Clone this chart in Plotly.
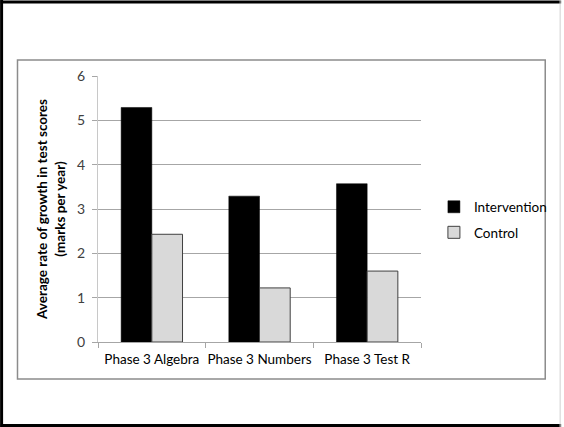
import plotly.graph_objects as go

categories = ["Phase 3 Algebra", "Phase 3 Numbers", "Phase 3 Test R"]
intervention = [5.29, 3.29, 3.57]
control = [2.43, 1.22, 1.60]
y_ticks = [0, 1, 2, 3, 4, 5, 6]

W, H = 564, 427
L, R, T, B = 98, 423, 76, 342

def px(x):
    return (x - L) / (R - L)

def py(y):
    return (B - y) / (B - T)

FONT = "Lato, Open Sans, sans-serif"

fig = go.Figure()
fig.add_trace(go.Bar(name="Intervention", x=categories, y=intervention, legendgroup="a",
                     marker=dict(color="#000000", line=dict(color="#000000", width=0.5))))
fig.add_trace(go.Bar(name="Control", x=categories, y=control, legendgroup="b",
                     marker=dict(color="#d9d9d9", line=dict(color="#404040", width=1))))

shapes = [
    # outer frame
    dict(type="line", xref="paper", yref="paper", x0=px(1), y0=py(0), x1=px(1), y1=py(427),
         line=dict(color="#000000", width=3)),
    dict(type="line", xref="paper", yref="paper", x0=px(0), y0=py(2), x1=px(564), y1=py(2),
         line=dict(color="#000000", width=3)),
    dict(type="line", xref="paper", yref="paper", x0=px(0), y0=py(425.5), x1=px(564), y1=py(425.5),
         line=dict(color="#000000", width=3)),
    dict(type="line", xref="paper", yref="paper", x0=px(563), y0=py(0), x1=px(563), y1=py(427),
         line=dict(color="#d0d0d0", width=1)),
    # inner chart frame
    dict(type="rect", xref="paper", yref="paper", x0=px(17), y0=py(60), x1=px(548), y1=py(379),
         line=dict(color="#8c8c8c", width=1.5)),
]

fig.update_layout(
    width=W, height=H, autosize=False,
    margin=dict(l=L, r=W - R, t=T, b=H - B, pad=0),
    paper_bgcolor="white", plot_bgcolor="white",
    barmode="group", bargap=0.43, bargroupgap=0,
    font=dict(family=FONT, size=13, color="#404040"),
    shapes=shapes,
    showlegend=True,
    legend=dict(x=px(436), y=py(220), xanchor="left", yanchor="middle",
                font=dict(family=FONT, size=13.5, color="#000000"),
                itemwidth=30, tracegroupgap=5, bgcolor="rgba(0,0,0,0)"),
    xaxis=dict(showline=True, linecolor="#a6a6a6", linewidth=1, tickangle=0,
               ticks="outside", tickson="boundaries", ticklen=5, tickcolor="#a6a6a6",
               ticklabelstandoff=5,
               tickfont=dict(family=FONT, size=13.5, color="#000000"), showgrid=False),
    yaxis=dict(range=[0, 6], tickvals=y_ticks, showline=True, linecolor="#c8c8c8", linewidth=1,
               ticks="outside", ticklen=5, tickcolor="#a6a6a6", ticklabelstandoff=4,
               gridcolor="#a6a6a6", gridwidth=1, zeroline=False,
               tickfont=dict(family=FONT, size=14, color="#404040"),
               title=dict(text="<b>Average rate of growth in test scores<br>(marks per year)</b>",
                          font=dict(family=FONT, size=13.5, color="#000000"), standoff=8)),
)

fig.write_html(
    "out.html",
    config={"displayModeBar": False, "responsive": False},
    post_script=("document.documentElement.style.margin='0';"
                 "document.documentElement.style.overflow='hidden';"
                 "document.body.style.margin='0';document.body.style.overflow='hidden';"),
)
